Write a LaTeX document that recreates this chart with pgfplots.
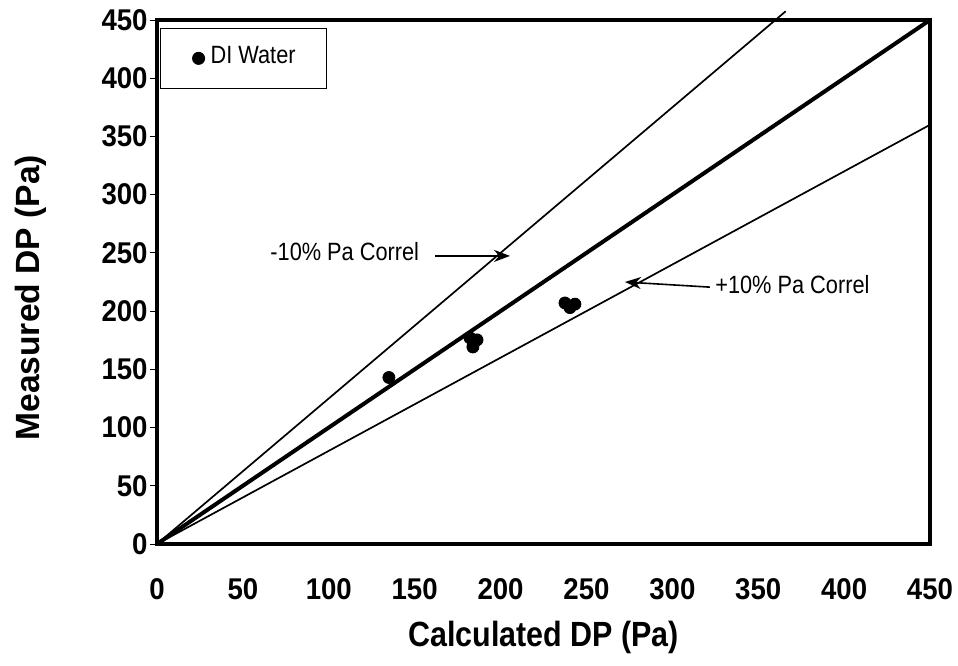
\documentclass[border=0pt]{standalone}
\usepackage{fontspec}
\setmainfont{Liberation Sans}[FakeStretch=0.87]
\newfontfamily\tickfont{Liberation Sans}[FakeStretch=0.92]
\newfontfamily\ylabfont{Liberation Sans}
\usepackage{pgfplots}
\pgfplotsset{compat=1.18}
\usetikzlibrary{arrows.meta}
\begin{document}
\begin{tikzpicture}
\path[use as bounding box] (-78.5pt,-60.5pt) rectangle (400.5pt,272pt);
\begin{axis}[
  at={(0,0)}, anchor=south west,
  scale only axis, width=386.5pt, height=262pt,
  xmin=0, xmax=450, ymin=0, ymax=450,
  xtick={0,50,...,450}, ytick={0,50,...,450},
  axis line style={line width=1.8pt},
  /pgf/number format/assume math mode=true,
  tick label style={font=\tickfont\fontsize{15}{17}\selectfont\bfseries},
  x tick style={draw=none},
  y tick style={line width=0.5pt, black},
  tick align=outside, major tick length=3.5pt,
  xtick pos=bottom, ytick pos=left,
  xticklabel style={anchor=base, yshift=-24pt},
  yticklabel style={anchor=east, inner sep=0pt, xshift=-1pt},
  xlabel={Calculated DP (Pa)},
  ylabel={Measured DP (Pa)},
  xlabel style={font=\fontsize{17.5}{20}\selectfont\bfseries, at={(axis description cs:0.5,-0.1947)}, anchor=base},
  ylabel style={font=\ylabfont\fontsize{16.8}{20}\selectfont\bfseries, at={(axis description cs:-0.1514,0.47)}, anchor=base},
  clip=false,
  legend style={at={(rel axis cs:0.004,0.985)}, anchor=north west,
    draw=black, line width=0.5pt, inner xsep=13pt, inner ysep=8.5pt,
    font=\fontsize{12.5}{14}\selectfont,
    nodes={inner xsep=2.5pt, inner ysep=0pt, text height=9pt, text depth=4pt}},
  legend cell align=left,
  legend image code/.code={\path[draw=none, fill=none] (0,-4.5pt) rectangle (9.5pt,2.5pt); \fill[black] (6pt,0) circle (3pt);},
]
\addplot[only marks, mark=*, mark size=3pt, black] coordinates {
  (135,143) (182.2,177) (186.3,175.3) (183.9,169.2)
  (237.5,207) (243.3,206) (240.4,203)
};
\addlegendentry{DI Water}
\addplot[black, line width=2pt, forget plot] coordinates {(0,0) (450,450)};
\addplot[black, line width=0.85pt, forget plot] coordinates {(0,0) (366,457.5)};
\addplot[black, line width=0.85pt, forget plot] coordinates {(0,0) (450,360)};
\node[anchor=west, inner sep=0pt, font=\fontsize{12.5}{14}\selectfont] at (axis cs:65.8,251) {-10\% Pa Correl};
\draw[line width=0.8pt, -{Stealth[length=8pt,width=6pt]}] (axis cs:161.8,247.4) -- (axis cs:205.5,247.4);
\node[anchor=west, inner sep=0pt, font=\fontsize{12.5}{14}\selectfont] at (axis cs:324.8,222.5) {+10\% Pa Correl};
\draw[line width=0.8pt, -{Stealth[length=8pt,width=6pt]}] (axis cs:321.9,220.6) -- (axis cs:272.4,225);
\end{axis}
\end{tikzpicture}
\end{document}
